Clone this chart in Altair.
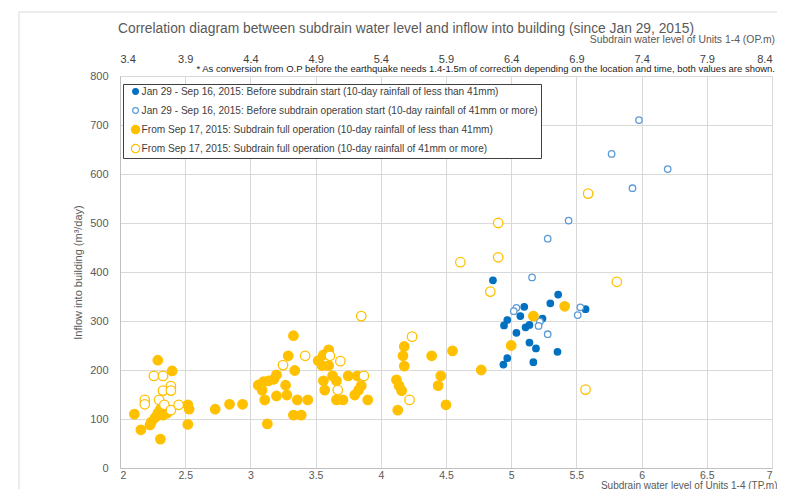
import altair as alt
import pandas as pd

FONT = "Liberation Sans, Arial, Helvetica, sans-serif"

S1 = "Jan 29 - Sep 16, 2015: Before subdrain start (10-day rainfall of less than 41mm)"
S2 = "Jan 29 - Sep 16, 2015: Before subdrain operation start (10-day rainfall of 41mm or more)"
S3 = "From Sep 17, 2015: Subdrain full operation (10-day rainfall of less than 41mm)"
S4 = "From Sep 17, 2015: Subdrain full operation (10-day rainfall of 41mm or more)"
series_names = [S1, S2, S3, S4]

# Before subdrain start, rainfall < 41mm (blue filled)
s1_x = [4.86, 5.36, 5.30, 5.10, 5.07, 4.97, 4.945, 5.24, 5.57, 5.14, 5.11, 5.04, 5.14, 5.19, 5.355, 4.97, 4.94, 5.17]
s1_y = [383, 354, 336, 329, 310, 302, 291, 305, 324, 292, 287, 276, 256, 244, 237, 224, 211, 216]

# Before subdrain start, rainfall >= 41mm (blue open)
s2_x = [5.98, 5.77, 6.20, 5.93, 5.44, 5.28, 5.16, 5.04, 5.02, 5.22, 5.21, 5.28, 5.53, 5.51]
s2_y = [710, 641, 610, 571, 505, 468, 389, 327, 320, 299, 290, 273, 328, 312]

# Full operation, rainfall < 41mm (yellow filled)
s3_x = [2.29, 2.40, 2.11, 2.16, 2.31, 2.31, 2.29, 2.27, 2.24, 2.23, 2.33, 2.36, 2.52, 2.53, 2.52,
        2.73, 2.84, 2.94,
        3.06, 3.10, 3.14, 3.18, 3.20, 3.09, 3.11, 3.20, 3.27, 3.28, 3.13, 3.29, 3.33, 3.34, 3.36,
        3.44, 3.33, 3.39,
        3.60, 3.56, 3.52, 3.55, 3.60, 3.56, 3.57, 3.63, 3.66, 3.66, 3.71, 3.75, 3.82, 3.85, 3.83,
        3.80, 3.90,
        4.18, 4.17, 4.18, 4.12, 4.14, 4.16, 4.13, 4.39, 4.55, 4.46, 4.44, 4.50,
        4.77, 5.00, 5.17, 5.41]
s3_y = [220, 198, 110, 78, 59, 120, 112, 103, 94, 88, 108, 112, 129, 120, 89,
        120, 130, 130,
        169, 176, 178, 181, 190, 159, 139, 147, 169, 149, 90, 229, 270, 199, 139,
        139, 108, 108,
        241, 231, 219, 209, 209, 178, 159, 188, 178, 139, 139, 188, 188, 168, 159,
        149, 139,
        248, 229, 208, 180, 168, 158, 118, 229, 239, 188, 168, 129,
        200, 250, 310, 330]

# Full operation, rainfall >= 41mm (yellow open)
s4_x = [2.26, 2.33, 2.33, 2.39, 2.39, 2.19, 2.19, 2.30, 2.34, 2.39, 2.45,
        3.25, 3.42, 3.61, 3.69, 3.67, 3.87, 3.85, 4.24, 4.22,
        4.61, 4.84, 4.90, 4.90, 5.59, 5.81, 5.57]
s4_y = [188, 188, 158, 167, 158, 139, 130, 139, 129, 118, 129,
        210, 229, 229, 218, 159, 188, 310, 268, 139,
        420, 360, 430, 500, 560, 380, 160]

bottom_ticks = [2, 2.5, 3, 3.5, 4, 4.5, 5, 5.5, 6, 6.5, 7]
top_ticks = [3.4, 3.9, 4.4, 4.9, 5.4, 5.9, 6.4, 6.9, 7.4, 7.9, 8.4]
y_ticks = [0, 100, 200, 300, 400, 500, 600, 700, 800]

rows = []
for k, (name, xs, ys) in enumerate([(S1, s1_x, s1_y), (S2, s2_x, s2_y), (S3, s3_x, s3_y), (S4, s4_x, s4_y)]):
    for i, (a, b) in enumerate(zip(xs, ys)):
        rows.append({"tp": a, "inflow": b, "series": name, "ord": k * 1000 + i})
df = pd.DataFrame(rows)

BLUE = "#0070C0"
LBLUE = "#5B9BD5"
YEL = "#FFC000"
GRID = "#d9d9d9"
TXT = "#595959"


def circle(r):
    return f"M{r},0A{r},{r} 0 1,1 {-r},0A{r},{r} 0 1,1 {r},0Z"


legend = alt.Legend(
    orient="none", legendX=3, legendY=8, title=None,
    strokeColor="#404040", fillColor="white", padding=2.5,
    labelFont=FONT, labelFontSize=10.1, labelColor="#404040", labelLimit=0,
    rowPadding=5, gridAlign="all", symbolSize=70, symbolStrokeWidth=1.2, symbolOffset=5,
    labelOffset=1,
)

points = alt.Chart(df).mark_point(filled=False, opacity=1, strokeWidth=1.3, fillOpacity=1, size=90).encode(
    x=alt.X("tp:Q", scale=alt.Scale(domain=[2, 7], nice=False, zero=False),
            axis=alt.Axis(values=bottom_ticks, format="~g", grid=True, gridColor=GRID,
                          domainColor="#bfbfbf", ticks=False, labelPadding=2,
                          labelFont=FONT, labelFontSize=10.5, labelColor=TXT,
                          title="Subdrain water level of Units 1-4 (TP.m)",
                          titleFont=FONT, titleFontSize=10, titleFontWeight="normal", titleColor=TXT,
                          titleAnchor="end", titleAlign="right", titleX=657, titleY=20,
                          titleBaseline="alphabetic")),
    y=alt.Y("inflow:Q", scale=alt.Scale(domain=[0, 800], nice=False),
            axis=alt.Axis(values=y_ticks, grid=True, gridColor=GRID, domainColor="#bfbfbf",
                          ticks=False, labelPadding=12, labelFont=FONT, labelFontSize=11,
                          labelColor=TXT, title="Inflow into building (m³/day)",
                          titleFont=FONT, titleFontSize=11, titleFontWeight="normal",
                          titleColor=TXT, titleX=-42, titleY=196, titleAngle=-90,
                          titleAlign="center", titleBaseline="middle")),
    fill=alt.Fill("series:N", scale=alt.Scale(domain=series_names, range=[BLUE, "white", YEL, "white"]), legend=legend),
    stroke=alt.Stroke("series:N", scale=alt.Scale(domain=series_names, range=[BLUE, LBLUE, YEL, YEL]), legend=legend),
    shape=alt.Shape("series:N", scale=alt.Scale(domain=series_names,
                                                range=[circle(0.68), circle(0.68), "circle", "circle"]),
                    legend=legend),
    order=alt.Order("ord:Q"),
)

top_df = pd.DataFrame({"op": top_ticks})
top_axis = alt.Chart(top_df).mark_point(opacity=0).encode(
    x=alt.X("op:Q", scale=alt.Scale(domain=[3.4, 8.4], nice=False, zero=False),
            axis=alt.Axis(orient="top", values=top_ticks, format=".1f", grid=False, domain=False,
                          ticks=False, labelPadding=12, labelFont=FONT, labelFontSize=11,
                          labelColor="#404040", title=None)),
    y=alt.value(0),
)

note_df = pd.DataFrame({"t": ["* As conversion from O.P before the earthquake needs 1.4-1.5m of correction depending on the location and time, both values are shown."]})
note = alt.Chart(note_df).mark_text(align="right", baseline="bottom", font=FONT, fontSize=9.5, color="#1a1a1a").encode(
    text="t:N", x=alt.value(655), y=alt.value(-2))

toptitle_df = pd.DataFrame({"t": ["Subdrain water level of Units 1-4 (OP.m)"]})
toptitle = alt.Chart(toptitle_df).mark_text(align="right", baseline="bottom", font=FONT, fontSize=10.4, color=TXT).encode(
    text="t:N", x=alt.value(655), y=alt.value(-31))

frame_h = alt.Chart(pd.DataFrame({"a": [0]})).mark_rule(color=GRID, strokeWidth=1).encode(
    x=alt.value(-101), x2=alt.value(680), y=alt.value(-64))
frame_v = alt.Chart(pd.DataFrame({"a": [0]})).mark_rule(color=GRID, strokeWidth=1).encode(
    x=alt.value(-101), y=alt.value(-64), y2=alt.value(430))

chart = alt.layer(frame_h, frame_v, points, top_axis, note, toptitle).resolve_scale(x="independent").properties(
    width=652, height=392,
    autosize=alt.AutoSizeParams(type="none"),
    padding={"left": 112, "top": 68, "right": 5, "bottom": 21},
    title=alt.TitleParams(
        "Correlation diagram between subdrain water level and inflow into building (since Jan 29, 2015)",
        font=FONT, fontSize=13.8, fontWeight="normal", color=TXT, anchor="middle", frame="group",
        dx=-40, offset=-24),
).configure_view(strokeWidth=0)

chart.save("out.html", embed_options={"renderer": "svg", "actions": False})
